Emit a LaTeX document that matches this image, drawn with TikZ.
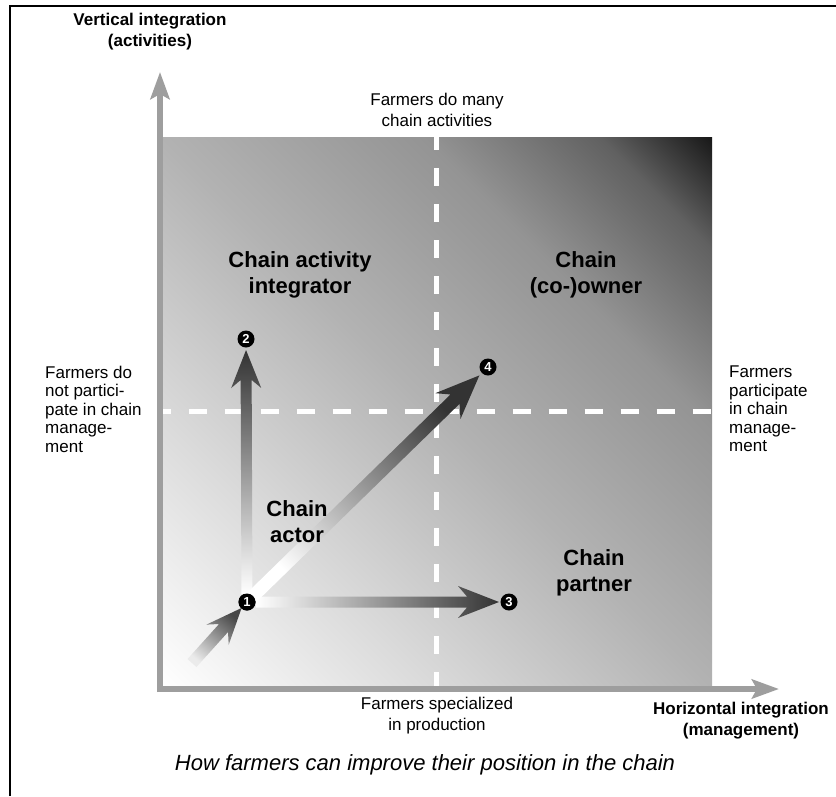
\documentclass[tikz,border=0pt]{standalone}
\usepackage{fontspec}
\setmainfont{Liberation Sans}
\usetikzlibrary{calc,arrows.meta}
\definecolor{axisgray}{HTML}{9E9E9E}
\pgfdeclareverticalshading{fieldshade}{100bp}{%
  color(0bp)=(white); color(25bp)=(white); color(37bp)=(black!14);
  color(50bp)=(black!30); color(62bp)=(black!42); color(70bp)=(black!62);
  color(75bp)=(black!90); color(100bp)=(black!90)}
\newcommand\fatarrow[7]{%
  \path (#3) coordinate (fa-t) (#2) coordinate (fa-s);
  \path ($(fa-t)!#6!(fa-s)$) coordinate (fa-j) ($(fa-t)!#7!(fa-s)$) coordinate (fa-b);
  \shade[#1] ($(fa-s)!#4!90:(fa-t)$) -- ($(fa-j)!#4!90:(fa-t)$) -- ($(fa-b)!#5!90:(fa-t)$)
    -- (fa-t) -- ($(fa-b)!#5!-90:(fa-t)$) -- ($(fa-j)!#4!-90:(fa-t)$) -- ($(fa-s)!#4!-90:(fa-t)$) -- cycle;
}
\begin{document}
\begin{tikzpicture}[x=1pt,y=-1pt,
  lbl/.style={align=center, inner sep=0pt, font=\fontsize{17}{21}\selectfont},
  side/.style={align=left, inner sep=0pt, anchor=west, font=\fontsize{17}{18.5}\selectfont},
  quad/.style={align=center, inner sep=0pt, font=\bfseries\fontsize{22}{26}\selectfont},
  axlbl/.style={align=center, inner sep=0pt, font=\bfseries\fontsize{17}{21}\selectfont},
  marker/.style={circle, fill=black, inner sep=0pt, minimum size=17pt, text=white, font=\bfseries\fontsize{13}{13}\selectfont},
  axisline/.style={draw=axisgray, line width=6pt, -{Stealth[length=27pt,width=19pt,inset=5pt]}},
  divider/.style={draw=white, line width=5pt, dash pattern=on 18pt off 18pt}
]
\useasboundingbox (0,0) rectangle (836,796);
\fill[white] (0,0) rectangle (836,796);
\draw[line width=2.5pt] (10,796) -- (10,6) -- (836,6);

% shaded field: gradient from lower-left corner (white) to upper-right corner (near black)
\begin{scope}
  \clip (160,137) rectangle (712,689);
  \shade[shading=fieldshade, shading angle=-45]
    (45.7,22.7) rectangle (826.3,803.3);
\end{scope}

% dividers
\draw[divider, dash phase=5pt] (436,137) -- (436,689);
\draw[divider, dash phase=7.5pt] (160,411) -- (712,411);

% axes
\coordinate (O) at (160,689);
\coordinate (vtip) at (160,72);
\coordinate (htip) at (779,689);
\draw[axisline] ($(O)+(0,3)$) -- (vtip);
\draw[axisline] ($(O)+(-3,0)$) -- (htip);

% markers
\node[marker] (n1) at (247,602) {1};
\node[marker] (n2) at (246,339) {2};
\node[marker] (n3) at (509,602) {3};
\node[marker] (n4) at (488,367) {4};
\coordinate (inc) at (192,663);

% fat arrows
\fatarrow{bottom color=white, top color=black!80}{$(n1)!8pt!(n2)$}{$(n2)!11pt!(n1)$}{5.5pt}{15pt}{30pt}{38pt}
\fatarrow{left color=white, right color=black!80}{$(n1)!9pt!(n3)$}{$(n3)!10pt!(n1)$}{5.5pt}{16pt}{32pt}{41pt}
\fatarrow{bottom color=white, top color=black!80, shading angle=-45}{$(n1)!7pt!(n4)$}{$(n4)!12pt!(n1)$}{6.5pt}{18pt}{34pt}{44pt}
\fatarrow{bottom color=black!8, top color=black!72, shading angle=-40}{inc}{$(n1)!8pt!(inc)$}{6pt}{15pt}{27pt}{36pt}
\node[marker] at (n1) {1};

% labels
\node[axlbl] (vlab) at (150,32) {Vertical integration\\(activities)};
\node[axlbl] (hlab) at (741,721) {Horizontal integration\\(management)};
\node[lbl] (many) at (437,110) {Farmers do many\\chain activities};
\node[lbl] (spec) at (437,716) {Farmers specialized\\in production};
\node[side] (notp) at (45,409) {Farmers do\\not partici-\\pate in chain\\manage-\\ment};
\node[side] (part) at (729,409) {Farmers\\participate\\in chain\\manage-\\ment};
\node[quad] (q1) at (300,275) {Chain activity\\integrator};
\node[quad] (q2) at (586,275) {Chain\\(co-)owner};
\node[quad] (q3) at (297,522) {Chain\\actor};
\node[quad] (q4) at (594,573) {Chain\\partner};
\node[inner sep=0pt, font=\itshape\fontsize{22}{26}\selectfont] (cap) at (425,765) {How farmers can improve their position in the chain};
\end{tikzpicture}
\end{document}
